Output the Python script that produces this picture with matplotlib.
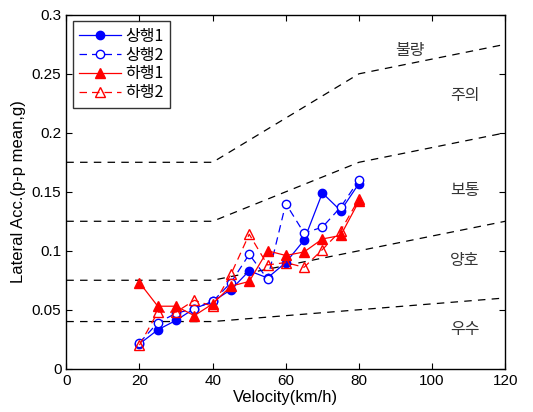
import matplotlib
matplotlib.use("Agg")
import matplotlib.pyplot as plt

plt.rcParams['font.family'] = ['Liberation Sans', 'Noto Sans CJK KR', 'DejaVu Sans']

speed = [20, 25, 30, 35, 40, 45, 50, 55, 60, 65, 70, 75, 80]
up1 = [0.021, 0.033, 0.041, 0.051, 0.057, 0.067, 0.083, 0.077, 0.090, 0.109, 0.149, 0.134, 0.157]
up2 = [0.022, 0.039, 0.047, 0.051, 0.057, 0.073, 0.097, 0.076, 0.140, 0.115, 0.120, 0.137, 0.160]
down1 = [0.073, 0.053, 0.053, 0.045, 0.055, 0.070, 0.074, 0.100, 0.096, 0.099, 0.110, 0.113, 0.142]
down2 = [0.020, 0.048, 0.048, 0.058, 0.053, 0.080, 0.114, 0.088, 0.090, 0.086, 0.101, 0.117, 0.144]

limit_x = [0, 40, 80, 120]
lim_excellent = [0.04, 0.04, 0.05, 0.06]
lim_good = [0.075, 0.075, 0.10, 0.125]
lim_normal = [0.125, 0.125, 0.175, 0.20]
lim_caution = [0.175, 0.175, 0.25, 0.275]

zone_labels = ['불량', '주의', '보통', '양호', '우수']
zone_x = [94, 109, 109, 109, 109]
zone_y = [0.270, 0.232, 0.151, 0.092, 0.033]

fig = plt.figure(figsize=(5.33, 4.12), dpi=100)
ax = fig.add_axes([0.1244, 0.105, 0.8236, 0.859])

for lim in [lim_excellent, lim_good, lim_normal, lim_caution]:
    ax.plot(limit_x, lim, color='black', linestyle=(0, (6, 5)), linewidth=0.9)

blue = '#0000ff'
red = '#ff0000'
ax.plot(speed, up1, color=blue, linestyle='-', linewidth=0.9, marker='o', markersize=6,
        markerfacecolor=blue, markeredgecolor=blue, label='상행1')
ax.plot(speed, up2, color=blue, linestyle=(0, (6, 4)), linewidth=0.9, marker='o', markersize=6,
        markerfacecolor='white', markeredgecolor=blue, label='상행2')
ax.plot(speed, down1, color=red, linestyle='-', linewidth=0.9, marker='^', markersize=7,
        markerfacecolor=red, markeredgecolor=red, label='하행1')
ax.plot(speed, down2, color=red, linestyle=(0, (6, 4)), linewidth=0.9, marker='^', markersize=7,
        markerfacecolor='none', markeredgecolor=red, label='하행2')

for t, x, y in zip(zone_labels, zone_x, zone_y):
    ax.text(x, y, t, fontsize=11.5, ha='center', va='center', color='#333333',
            family=['Noto Sans CJK KR', 'DejaVu Sans'])

ax.set_xlim(0, 120)
ax.set_ylim(0, 0.3)
ax.set_xticks([0, 20, 40, 60, 80, 100, 120])
ax.set_yticks([0, 0.05, 0.1, 0.15, 0.2, 0.25, 0.3])
ax.set_yticklabels(['0', '0.05', '0.1', '0.15', '0.2', '0.25', '0.3'])
ax.tick_params(direction='in', top=True, right=True, labelsize=11, length=4)
for s in ax.spines.values():
    s.set_linewidth(1.0)

ax.set_xlabel('Velocity(km/h)', fontsize=12, labelpad=2)
ax.set_ylabel('Lateral Acc.(p-p mean,g)', fontsize=12, labelpad=4)

leg = ax.legend(loc='upper left', frameon=True, fancybox=False,
                edgecolor='black', handlelength=2.6, borderaxespad=0.4,
                labelspacing=0.12, handletextpad=0.3, borderpad=0.4,
                prop={'family': ['Noto Sans CJK KR', 'DejaVu Sans'], 'size': 11.5})
leg.get_frame().set_linewidth(1.0)

fig.savefig('out.png', dpi=100)
